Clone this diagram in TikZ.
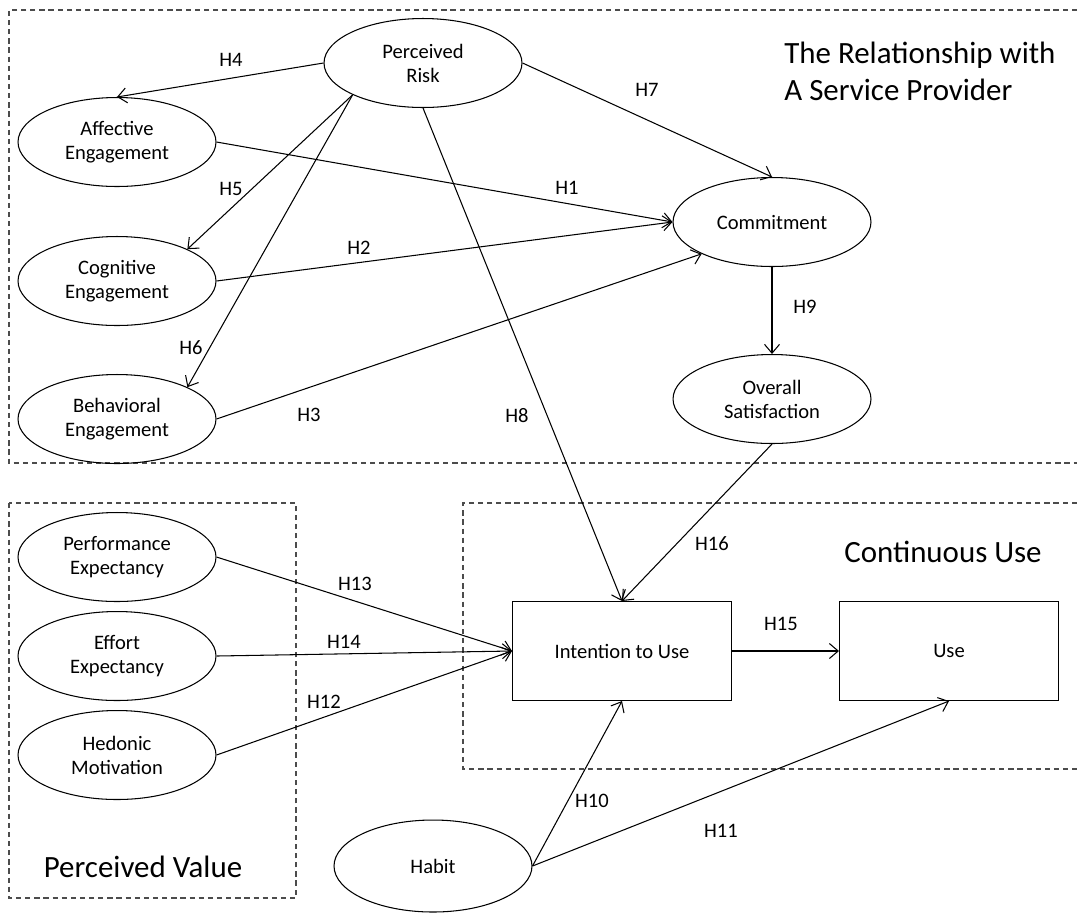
\documentclass[tikz,border=0pt]{standalone}
\usepackage{fontspec}
\setmainfont{Carlito}
\usepackage{tikz}
\usetikzlibrary{shapes.geometric,arrows.meta}

\begin{document}
\begin{tikzpicture}[x=0.02cm,y=-0.02cm,
	construct/.style={draw,ellipse,line width=0.6pt,minimum width=3.96cm,minimum height=1.78cm,inner sep=0pt,align=center,font=\fontsize{11.7}{13.6}\selectfont},
	usebox/.style={draw,rectangle,line width=0.6pt,minimum width=4.38cm,minimum height=1.98cm,font=\fontsize{11.7}{13.6}\selectfont},
	hyp/.style={font=\fontsize{11.7}{13.6}\selectfont},
	group/.style={black!70,line width=0.6pt,dash pattern=on 3pt off 2.2pt},
	grouptitle/.style={font=\fontsize{17.6}{21}\selectfont},
	path/.style={line width=0.6pt,-{Straight Barb[length=5pt,width=8.5pt]}}]
	\useasboundingbox (0,0) rectangle (1077,914);
	
	% groups
	\draw[group] (1077,10)--(9,10)--(9,463)--(1077,463);
	\draw[group] (9,503) rectangle (296,898);
	\draw[group] (1077,503)--(463,503)--(463,769)--(1077,769);
	
	\node[grouptitle,align=left,anchor=north west,inner sep=0pt] (reltitle) at (784,42) {
		The Relationship with\\
		A Service Provider
	};
	\node[grouptitle,anchor=base] (valtitle) at (143,877) {Perceived Value};
	\node[grouptitle,anchor=base] (usetitle) at (943,562) {Continuous Use};
	
	% constructs
	\node[construct] (risk) at (423,63) {Perceived\\Risk};
	\node[construct] (aff) at (117,142) {Affective\\Engagement};
	\node[construct] (cog) at (117,281) {Cognitive\\Engagement};
	\node[construct] (beh) at (117,419) {Behavioral\\Engagement};
	\node[construct] (commit) at (772,222) {Commitment};
	\node[construct] (sat) at (772,399) {Overall\\Satisfaction};
	\node[construct] (perf) at (117,557) {Performance\\Expectancy};
	\node[construct] (effort) at (117,656) {Effort\\Expectancy};
	\node[construct] (hed) at (117,755) {Hedonic\\Motivation};
	\node[construct,minimum height=1.84cm] (habit) at (433,866) {Habit};
	\node[usebox] (intent) at (622,651) {Intention to Use};
	\node[usebox] (use) at (949,651) {Use};
	
	% hypotheses
	\draw[path] (aff.east)--(commit.west);
	\draw[path] (cog.east)--(commit.west);
	\draw[path] (beh.east)--(commit.south west);
	\draw[path] (risk.west)--(aff.north);
	\draw[path] (risk.south west)--(cog.north east);
	\draw[path] (risk.south west)--(beh.north east);
	\draw[path] (risk.east)--(commit.north);
	\draw[path] (risk.south)--(intent.north);
	\draw[path] (commit.south)--(sat.north);
	\draw[path] (habit.east)--(intent.south);
	\draw[path] (habit.east)--(use.south);
	\draw[path] (hed.east)--(intent.west);
	\draw[path] (perf.east)--(intent.west);
	\draw[path] (effort.east)--(intent.west);
	\draw[path] (intent.east)--(use.west);
	\draw[path] (sat.south)--(intent.north);
	
	\node[hyp] (h1) at (567,188) {H1};
	\node[hyp] (h2) at (359,248) {H2};
	\node[hyp] (h3) at (309,415) {H3};
	\node[hyp] (h4) at (231,60) {H4};
	\node[hyp] (h5) at (231,189) {H5};
	\node[hyp] (h6) at (191,348) {H6};
	\node[hyp] (h7) at (647,90) {H7};
	\node[hyp] (h8) at (517,416) {H8};
	\node[hyp] (h9) at (805,307) {H9};
	\node[hyp] (h10) at (592,801) {H10};
	\node[hyp] (h11) at (721,831) {H11};
	\node[hyp] (h12) at (324,702) {H12};
	\node[hyp] (h13) at (355,584) {H13};
	\node[hyp] (h14) at (344,642) {H14};
	\node[hyp] (h15) at (781,624) {H15};
	\node[hyp] (h16) at (712,544) {H16};
\end{tikzpicture}
\end{document}
